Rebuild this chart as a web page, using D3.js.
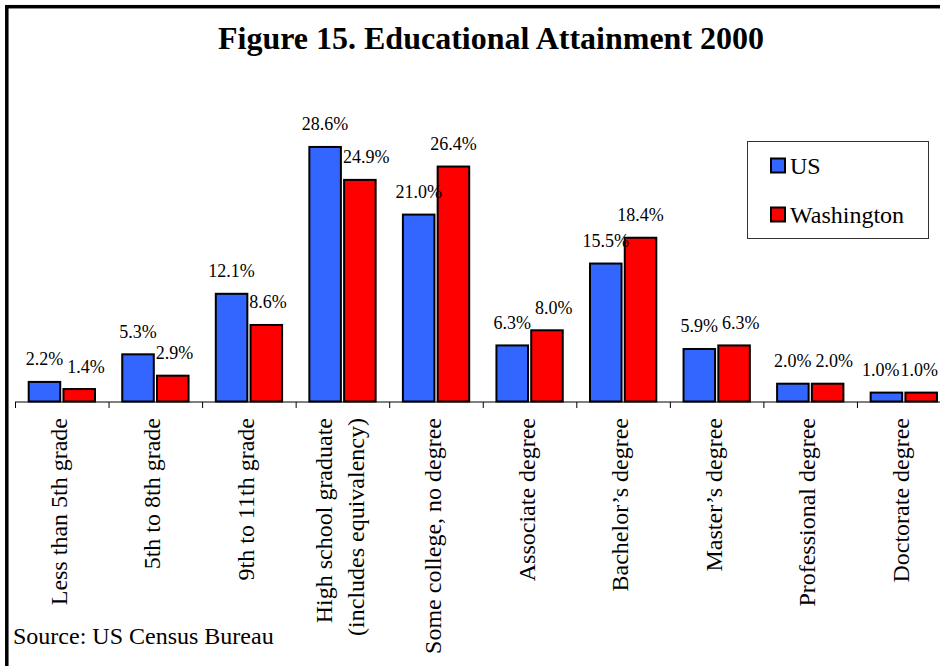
<!DOCTYPE html>
<html>
<head>
<meta charset="utf-8">
<script src="https://cdn.jsdelivr.net/npm/d3@7"></script>
<style>
  html, body { margin: 0; padding: 0; background: #fff; }
  svg { display: block; }
  text { font-family: "Liberation Serif", "Times New Roman", serif; fill: #000; }
</style>
</head>
<body>
<svg id="chart" width="940" height="666"></svg>
<script>
const categories = [
  ["Less than 5th grade"],
  ["5th to 8th grade"],
  ["9th to 11th grade"],
  ["High school graduate", "(includes equivalency)"],
  ["Some college, no degree"],
  ["Associate degree"],
  ["Bachelor\u2019s degree"],
  ["Master\u2019s degree"],
  ["Professional degree"],
  ["Doctorate degree"]
];
const seriesNames = ["US", "Washington"];
const usValues = [2.2, 5.3, 12.1, 28.6, 21.0, 6.3, 15.5, 5.9, 2.0, 1.0];
const waValues = [1.4, 2.9, 8.6, 24.9, 26.4, 8.0, 18.4, 6.3, 2.0, 1.0];
const seriesColors = ["#3366FF", "#FF0000"];
const titleText = "Figure 15. Educational Attainment 2000";
const sourceText = "Source: US Census Bureau";

const svg = d3.select("#chart");
const catKeys = categories.map((c, i) => i);
const W = 940;

// frame
svg.append("rect")
  .attr("x", 6.8).attr("y", 6.7)
  .attr("width", 1200).attr("height", 1200)
  .attr("fill", "none").attr("stroke", "#000").attr("stroke-width", 3.5);

// title
svg.append("text")
  .attr("x", 491).attr("y", 49)
  .attr("text-anchor", "middle")
  .attr("font-size", 32).attr("font-weight", "bold")
  .text(titleText);

const plotLeft = 15, step = 93.55;
const x0 = d3.scaleBand().domain(catKeys)
  .range([plotLeft, plotLeft + step * categories.length])
  .paddingInner(0).paddingOuter(0);
const x1 = d3.scaleBand().domain(seriesNames)
  .range([12.7, 81]).paddingInner(0.035);
const y = d3.scaleLinear().domain([0, 30]).range([401.5, 401.5 - 30 * 8.9]);

const data = catKeys.map(i => ({
  i,
  vals: [
    { s: seriesNames[0], v: usValues[i], c: seriesColors[0] },
    { s: seriesNames[1], v: waValues[i], c: seriesColors[1] }
  ]
}));

const groups = svg.append("g").selectAll("g").data(data).join("g")
  .attr("transform", d => `translate(${x0(d.i)},0)`);

groups.selectAll("rect").data(d => d.vals).join("rect")
  .attr("x", d => x1(d.s) + 1)
  .attr("width", x1.bandwidth() - 2)
  .attr("y", d => y(d.v))
  .attr("height", d => y(0) - y(d.v))
  .attr("fill", d => d.c)
  .attr("stroke", "#000")
  .attr("stroke-width", 2);

// axis
const axisG = svg.append("g");
axisG.append("line")
  .attr("x1", plotLeft).attr("x2", plotLeft + step * categories.length)
  .attr("y1", y(0) + 0.5).attr("y2", y(0) + 0.5)
  .attr("stroke", "#000").attr("stroke-width", 1);
axisG.selectAll("line.tick").data(catKeys.concat([categories.length])).join("line")
  .attr("class", "tick")
  .attr("x1", d => (d < categories.length ? x0(d) : x0(d - 1) + x0.bandwidth()) + 0.5)
  .attr("x2", d => (d < categories.length ? x0(d) : x0(d - 1) + x0.bandwidth()) + 0.5)
  .attr("y1", y(0) + 0.5).attr("y2", y(0) + 6.5)
  .attr("stroke", "#000").attr("stroke-width", 1);

// data labels
const labelG = svg.append("g");
data.forEach(d => {
  const gx = x0(d.i);
  const usRect = { x0: gx + x1("US"), x1: gx + x1("US") + x1.bandwidth(), y0: y(d.vals[0].v) };
  const texts = d.vals.map(v => {
    const cx = gx + x1(v.s) + x1.bandwidth() / 2;
    return labelG.append("text")
      .attr("x", cx).attr("y", y(v.v) - 16.5)
      .attr("text-anchor", "middle")
      .attr("font-size", 18)
      .text(v.v.toFixed(1) + "%");
  });
  const usT = texts[0], waT = texts[1];
  const usBox = usT.node().getBBox();
  let b = waT.node().getBBox();
  let need = b.x;
  const top = b.y, bottom = b.y + b.height;
  if (b.x < usRect.x1 && bottom > usRect.y0) need = Math.max(need, usRect.x1 + 1);
  if (b.x < usBox.x + usBox.width && bottom > usBox.y && top < usBox.y + usBox.height)
    need = Math.max(need, usBox.x + usBox.width + 4);
  // keep inside the visible area
  if (need + b.width > W - 2) need = W - 2 - b.width;
  waT.attr("x", +waT.attr("x") + (need - b.x));
  b = waT.node().getBBox();
  // push US label left if it now collides with the Washington label
  if (usBox.x + usBox.width > b.x - 1 && usBox.y < b.y + b.height && usBox.y + usBox.height > b.y) {
    const shift = usBox.x + usBox.width - (b.x - 1);
    usT.attr("x", +usT.attr("x") - shift);
  }
});

// category labels
const catG = svg.append("g");
data.forEach(d => {
  const cx = x0(d.i) + x0.bandwidth() / 2;
  const lines = categories[d.i];
  const offsets = lines.length === 1 ? [5] : [-10, 22];
  lines.forEach((ln, j) => {
    const bx = cx + offsets[j];
    catG.append("text")
      .attr("transform", `translate(${bx},418) rotate(-90)`)
      .attr("text-anchor", "end")
      .attr("font-size", 24)
      .text(ln);
  });
});

// legend
const lg = svg.append("g");
lg.append("rect")
  .attr("x", 747.5).attr("y", 141.5).attr("width", 181).attr("height", 97)
  .attr("fill", "#fff").attr("stroke", "#333").attr("stroke-width", 1);
seriesNames.forEach((s, k) => {
  const yy = 158.5 + k * 49;
  lg.append("rect")
    .attr("x", 771).attr("y", yy).attr("width", 14).attr("height", 14)
    .attr("fill", seriesColors[k]).attr("stroke", "#000").attr("stroke-width", 2);
  lg.append("text")
    .attr("x", 790).attr("y", yy + 15)
    .attr("font-size", 24)
    .text(s);
});

// source
svg.append("text")
  .attr("x", 13).attr("y", 644)
  .attr("font-size", 24)
  .text(sourceText);
</script>
</body>
</html>
